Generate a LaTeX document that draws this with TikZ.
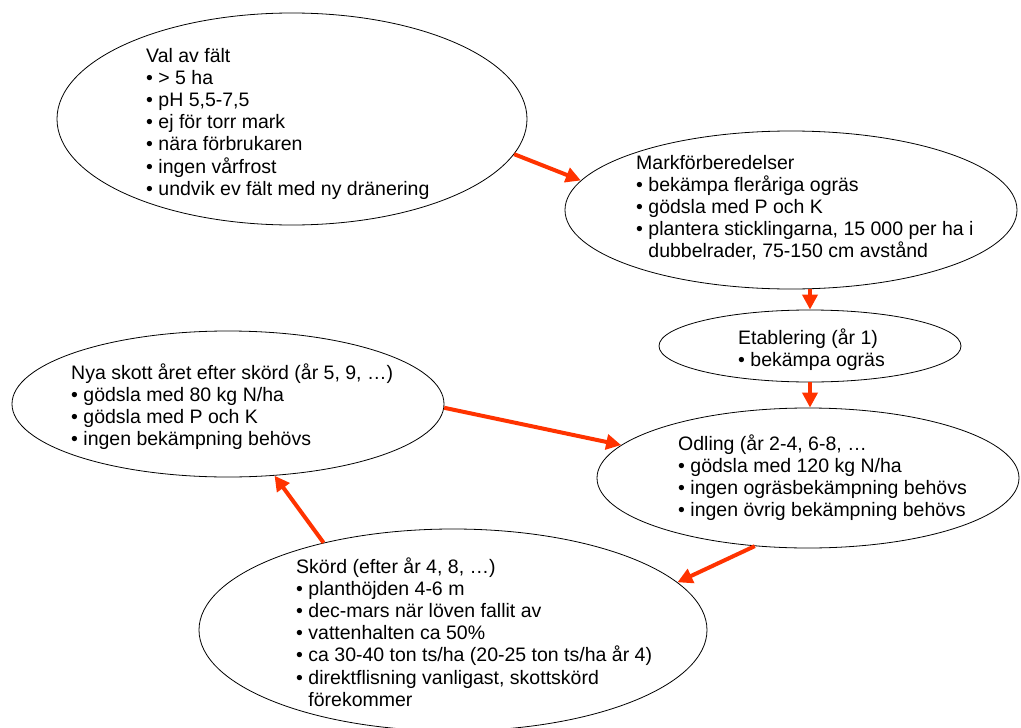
\documentclass[tikz,border=0pt]{standalone}
\usepackage{fontspec}
\setmainfont{Liberation Sans}
\usepackage{xcolor}
\usepackage{tikz}
\usetikzlibrary{arrows.meta,shapes.geometric}
\definecolor{pilrod}{HTML}{FF3300}

\begin{document}
\begin{tikzpicture}[x=1pt,y=-1pt,
fas/.style={draw,ellipse,line width=0.8pt,inner sep=0pt},
txt/.style={anchor=base west,inner sep=0pt,align=left,font=\fontsize{19.5}{22.2}\selectfont},
pil/.style={pilrod,line width=4pt,-{Triangle[length=15pt,width=15pt]}}]
\useasboundingbox(0,0)rectangle(1021,728);
% faserna
\node[fas,minimum width=470pt,minimum height=212pt](val)at(292,119){};
\node[fas,minimum width=452pt,minimum height=158pt](mark)at(791,210){};
\node[fas,minimum width=302pt,minimum height=72pt](etab)at(810,346){};
\node[fas,minimum width=422pt,minimum height=140pt](odl)at(808,478){};
\node[fas,minimum width=432pt,minimum height=146pt](nya)at(228,404){};
\node[fas,minimum width=508pt,minimum height=202pt](skord)at(453,630){};
% texterna (base = sista raden)
\node[txt](valtxt)at(146,195.2){Val av fält\\• > 5 ha\\• pH 5,5-7,5\\• ej för torr mark\\• nära förbrukaren\\• ingen vårfrost\\• undvik ev fält med ny dränering};
\node[txt](marktxt)at(636,257.8){Markförberedelser\\• bekämpa fleråriga ogräs\\• gödsla med P och K\\• plantera sticklingarna, 15 000 per ha i\\\hphantom{• }dubbelrader, 75-150 cm avstånd};
\node[txt](etabtxt)at(738,366.2){Etablering (år 1)\\• bekämpa ogräs};
\node[txt](odltxt)at(678,516.6){Odling (år 2-4, 6-8, …\\• gödsla med 120 kg N/ha\\• ingen ogräsbekämpning behövs\\• ingen övrig bekämpning behövs};
\node[txt](nyatxt)at(71,445.6){Nya skott året efter skörd (år 5, 9, …)\\• gödsla med 80 kg N/ha\\• gödsla med P och K\\• ingen bekämpning behövs};
\node[txt](skordtxt)at(296,706.2){Skörd (efter år 4, 8, …)\\• planthöjden 4-6 m\\• dec-mars när löven fallit av\\• vattenhalten ca 50\%\\• ca 30-40 ton ts/ha (20-25 ton ts/ha år 4)\\• direktflisning vanligast, skottskörd\\\hphantom{• }förekommer};
% pilarna
\draw[pil](val.-9)--(mark.172);
\draw[pil](etab.north|-mark.south)--(etab.north);
\draw[pil](etab.south)--(etab.south|-odl.north);
\draw[pil](nya.-1)--(odl.170);
\draw[pil](odl.-128)--(skord.12);
\draw[pil](skord.146)--(nya.-57);
\end{tikzpicture}
\end{document}
